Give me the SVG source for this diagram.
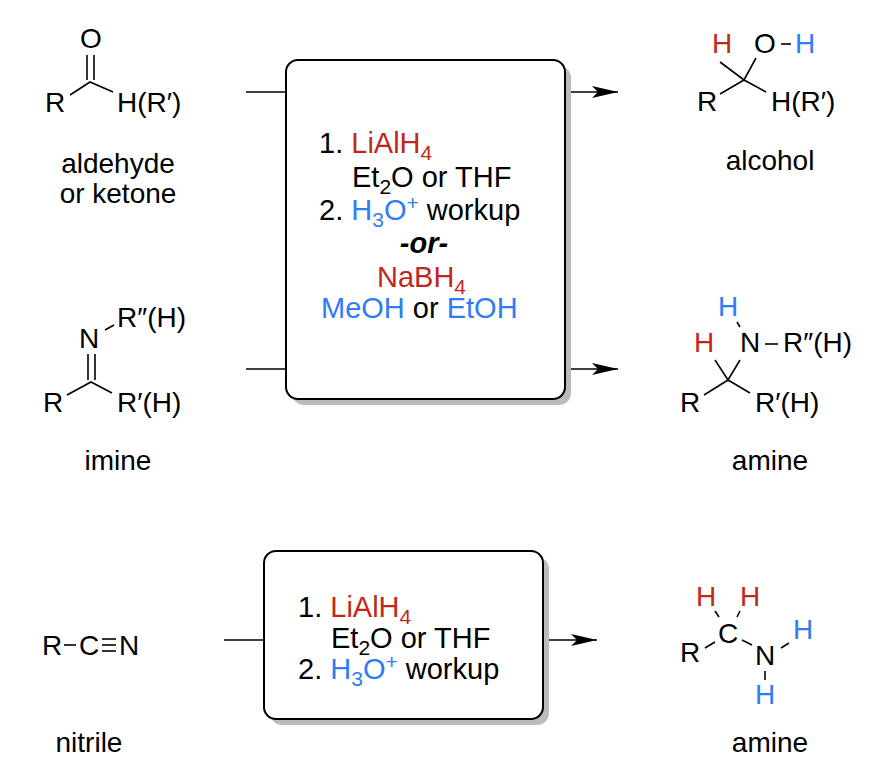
<svg xmlns="http://www.w3.org/2000/svg" width="870" height="772" viewBox="0 0 870 772">
<defs>
<marker id="ah" viewBox="0 0 26 12" refX="26" refY="6" markerWidth="26" markerHeight="12" markerUnits="userSpaceOnUse" orient="auto"><path d="M0,0 L26,6 L0,12 L6,6 Z" fill="#000"/></marker>
</defs>
<style>
text{font-family:"Liberation Sans",Arial,sans-serif;font-size:28px;fill:#000}
.bx{font-size:29px}
.r{fill:#c0281c}.b{fill:#2f7cf6}
.bd{stroke:#000;stroke-width:1.6;fill:none}
.box{fill:#fff;stroke:#000;stroke-width:2}
.sh{fill:#bbb}
.ln{stroke:#000;stroke-width:1.6;fill:none}
.s{font-size:21px}
</style>
<rect width="870" height="772" fill="#fff"/>
<g id="connectors">
<line class="ln" x1="246" y1="92" x2="287" y2="92"/>
<line class="ln" x1="565" y1="92" x2="618" y2="92" marker-end="url(#ah)"/>
<line class="ln" x1="246" y1="369" x2="287" y2="369"/>
<line class="ln" x1="565" y1="369" x2="618" y2="369" marker-end="url(#ah)"/>
<line class="ln" x1="224" y1="640" x2="264" y2="640"/>
<line class="ln" x1="543" y1="640" x2="597" y2="640" marker-end="url(#ah)"/>
</g>
<g id="box1">
<rect class="sh" x="292" y="66" width="279" height="339" rx="12"/>
<rect class="box" x="286" y="60" width="279" height="339" rx="12"/>
<text class="bx" x="319" y="153">1. <tspan class="r">LiAlH<tspan class="s" dy="7">4</tspan></tspan></text>
<text class="bx" x="352" y="187">Et<tspan class="s" dy="7">2</tspan><tspan dy="-7">O or THF</tspan></text>
<text class="bx" x="319" y="220">2. <tspan class="b">H<tspan class="s" dy="7">3</tspan><tspan dy="-7">O</tspan><tspan class="s" dy="-10">+</tspan></tspan><tspan dy="10"> workup</tspan></text>
<text class="bx" x="424" y="253" text-anchor="middle" font-weight="bold" font-style="italic">-or-</text>
<text class="bx r" x="377" y="287">NaBH<tspan class="s" dy="7">4</tspan></text>
<text class="bx" x="321" y="318"><tspan class="b">MeOH</tspan> or <tspan class="b">EtOH</tspan></text>
</g>
<g id="box2">
<rect class="sh" x="270" y="557" width="279" height="168" rx="12"/>
<rect class="box" x="264" y="551" width="279" height="168" rx="12"/>
<text class="bx" x="298" y="617">1. <tspan class="r">LiAlH<tspan class="s" dy="7">4</tspan></tspan></text>
<text class="bx" x="331" y="648">Et<tspan class="s" dy="7">2</tspan><tspan dy="-7">O or THF</tspan></text>
<text class="bx" x="298" y="679">2. <tspan class="b">H<tspan class="s" dy="7">3</tspan><tspan dy="-7">O</tspan><tspan class="s" dy="-10">+</tspan></tspan><tspan dy="10"> workup</tspan></text>
</g>
<g id="aldehyde">
<text x="80" y="48">O</text>
<line class="bd" x1="87" y1="55" x2="87" y2="80"/>
<line class="bd" x1="94" y1="55" x2="94" y2="80"/>
<polyline class="bd" points="70,95 90,82 113,92"/>
<text x="45" y="112">R</text>
<text x="117" y="112">H(R′)</text>
<text x="118" y="173" text-anchor="middle">aldehyde</text>
<text x="118" y="203" text-anchor="middle">or ketone</text>
</g>
<g id="alcohol">
<text x="712" y="53" class="r">H</text>
<text x="754" y="53">O</text>
<line class="bd" x1="781" y1="44" x2="791" y2="44"/>
<text x="795" y="53" class="b">H</text>
<polyline class="bd" points="720,62 744,80 756,58"/>
<polyline class="bd" points="720,94 744,80 766,92"/>
<text x="697" y="111">R</text>
<text x="771" y="111">H(R′)</text>
<text x="770" y="170" text-anchor="middle">alcohol</text>
</g>
<g id="imine">
<text x="79" y="348">N</text>
<line class="bd" x1="105" y1="330" x2="114" y2="325"/>
<text x="117" y="327">R″(H)</text>
<line class="bd" x1="88" y1="354" x2="88" y2="380"/>
<line class="bd" x1="95" y1="354" x2="95" y2="380"/>
<polyline class="bd" points="67,395 91,382 112,393"/>
<text x="43" y="412">R</text>
<text x="117" y="412">R′(H)</text>
<text x="118" y="470" text-anchor="middle">imine</text>
</g>
<g id="amine1">
<text x="718" y="316" class="b">H</text>
<line class="bd" x1="737" y1="322" x2="740" y2="327"/>
<text x="740" y="352">N</text>
<line class="bd" x1="765" y1="344" x2="778" y2="344"/>
<text x="783" y="352">R″(H)</text>
<text x="694" y="352" class="r">H</text>
<polyline class="bd" points="715,360 728,380 740,360"/>
<polyline class="bd" points="704,395 728,380 750,393"/>
<text x="680" y="412">R</text>
<text x="755" y="412">R′(H)</text>
<text x="770" y="470" text-anchor="middle">amine</text>
</g>
<g id="nitrile">
<text x="42" y="655">R</text>
<line class="bd" x1="64" y1="645" x2="76" y2="645"/>
<text x="79" y="655">C</text>
<line class="bd" x1="102" y1="639" x2="116" y2="639"/>
<line class="bd" x1="102" y1="645" x2="116" y2="645"/>
<line class="bd" x1="102" y1="651" x2="116" y2="651"/>
<text x="119" y="655">N</text>
<text x="89" y="752" text-anchor="middle">nitrile</text>
</g>
<g id="amine2">
<text x="696" y="606" class="r">H</text>
<text x="740" y="606" class="r">H</text>
<line class="bd" x1="715" y1="611" x2="719" y2="617"/>
<line class="bd" x1="740" y1="611" x2="737" y2="617"/>
<text x="718" y="643">C</text>
<line class="bd" x1="705" y1="648" x2="715" y2="642"/>
<line class="bd" x1="742" y1="640" x2="752" y2="645"/>
<line class="bd" x1="781" y1="648" x2="789" y2="643"/>
<line class="bd" x1="765" y1="671" x2="765" y2="680"/>
<text x="680" y="662">R</text>
<text x="755" y="665">N</text>
<text x="793" y="639" class="b">H</text>
<text x="755" y="704" class="b">H</text>
<text x="770" y="752" text-anchor="middle">amine</text>
</g>
</svg>
